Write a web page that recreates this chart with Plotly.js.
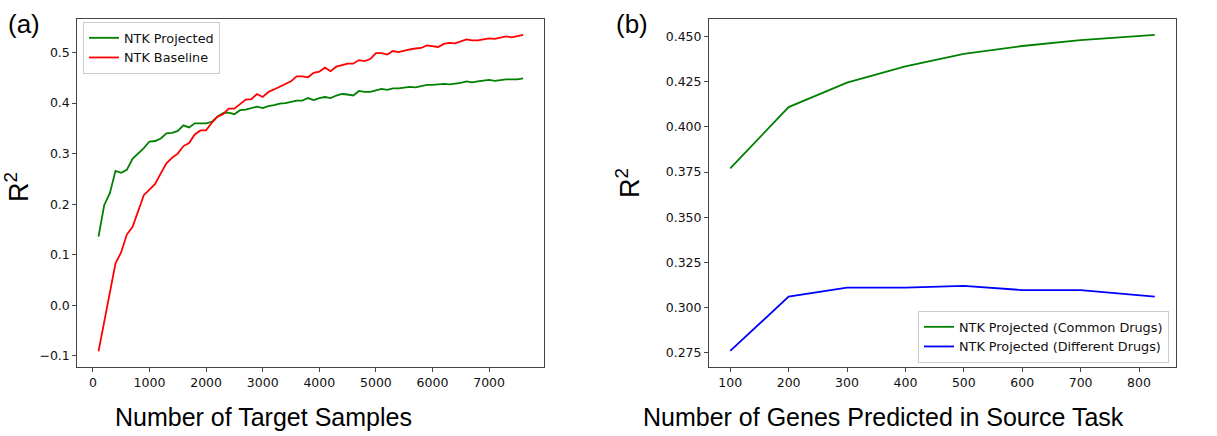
<!DOCTYPE html>
<html>
<head>
<meta charset="utf-8">
<script src="https://cdn.plot.ly/plotly-3.0.1.min.js"></script>
<style>html,body{margin:0;padding:0;background:#fff;}#chart{width:1217px;height:436px;}</style>
</head>
<body>
<div id="chart"></div>
<script>
// ---- Data: panel (a)
var targetSamples = [100,200,300,400,500,600,700,800,900,1000,1100,1200,1300,1400,1500,1600,1700,1800,1900,2000,
  2100,2200,2300,2400,2500,2600,2700,2800,2900,3000,3100,3200,3300,3400,3500,3600,3700,3800,3900,4000,
  4100,4200,4300,4400,4500,4600,4700,4800,4900,5000,5100,5200,5300,5400,5500,5600,5700,5800,5900,6000,
  6100,6200,6300,6400,6500,6600,6700,6800,6900,7000,7100,7200,7300,7400,7500,7600];
var ntkProjected = [0.136,0.198,0.222,0.266,0.262,0.268,0.290,0.300,0.311,0.324,0.325,0.330,0.340,0.341,0.345,0.356,0.352,0.360,0.360,0.360,
  0.363,0.373,0.380,0.381,0.378,0.386,0.387,0.390,0.393,0.390,0.394,0.396,0.399,0.400,0.402,0.405,0.405,0.410,0.406,0.410,
  0.412,0.410,0.415,0.418,0.417,0.415,0.424,0.422,0.422,0.425,0.428,0.426,0.429,0.429,0.431,0.432,0.431,0.433,0.436,0.436,
  0.437,0.438,0.437,0.438,0.440,0.443,0.441,0.443,0.444,0.446,0.444,0.446,0.447,0.447,0.447,0.449];
var ntkBaseline = [-0.091,-0.032,0.024,0.083,0.105,0.140,0.155,0.188,0.218,0.229,0.240,0.261,0.281,0.292,0.300,0.315,0.321,0.338,0.346,0.346,
  0.361,0.373,0.378,0.389,0.389,0.398,0.407,0.408,0.418,0.412,0.422,0.427,0.432,0.438,0.443,0.453,0.453,0.451,0.460,0.462,
  0.470,0.463,0.472,0.475,0.478,0.478,0.485,0.483,0.487,0.499,0.499,0.496,0.503,0.501,0.504,0.506,0.508,0.509,0.514,0.512,
  0.511,0.517,0.519,0.518,0.522,0.526,0.524,0.524,0.526,0.528,0.527,0.529,0.532,0.530,0.532,0.535];

// ---- Data: panel (b)
var genesPredicted = [100,200,300,400,500,600,700,827];
var commonDrugs = [0.377,0.411,0.4245,0.4335,0.4405,0.4448,0.448,0.451];
var differentDrugs = [0.276,0.306,0.311,0.311,0.312,0.3097,0.3097,0.306];

// ---- Tick labels
var xTicksA = [0,1000,2000,3000,4000,5000,6000,7000];
var xTickTextA = ['0','1000','2000','3000','4000','5000','6000','7000'];
var yTicksA = [-0.1,0,0.1,0.2,0.3,0.4,0.5];
var yTickTextA = ['\u22120.1','0.0','0.1','0.2','0.3','0.4','0.5'];
var xTicksB = [100,200,300,400,500,600,700,800];
var xTickTextB = ['100','200','300','400','500','600','700','800'];
var yTicksB = [0.275,0.300,0.325,0.350,0.375,0.400,0.425,0.450];
var yTickTextB = ['0.275','0.300','0.325','0.350','0.375','0.400','0.425','0.450'];

var W = 1217, H = 436;
function px(x){return x/W;}
function py(y){return 1 - y/H;}

var tickFont = {family:'DejaVu Sans', size:12.5, color:'#111'};
var axisCommon = {showline:true, mirror:true, linecolor:'#444', linewidth:1, ticks:'outside', ticklen:4,
  tickcolor:'#444', tickwidth:1, showgrid:false, zeroline:false, tickfont:tickFont, fixedrange:true};

var traces = [
  {x:targetSamples, y:ntkProjected, type:'scatter', mode:'lines', name:'NTK Projected',
   line:{color:'#008000', width:1.8}, xaxis:'x', yaxis:'y', legend:'legend'},
  {x:targetSamples, y:ntkBaseline, type:'scatter', mode:'lines', name:'NTK Baseline',
   line:{color:'#ff0000', width:1.8}, xaxis:'x', yaxis:'y', legend:'legend'},
  {x:genesPredicted, y:commonDrugs, type:'scatter', mode:'lines', name:'NTK Projected (Common Drugs)',
   line:{color:'#008000', width:1.8}, xaxis:'x2', yaxis:'y2', legend:'legend2'},
  {x:genesPredicted, y:differentDrugs, type:'scatter', mode:'lines', name:'NTK Projected (Different Drugs)',
   line:{color:'#0000ff', width:1.8}, xaxis:'x2', yaxis:'y2', legend:'legend2'}
];

var legendCommon = {bgcolor:'rgba(255,255,255,0.8)', bordercolor:'#cccccc', borderwidth:1,
  font:{family:'DejaVu Sans', size:12.8, color:'#111'}, tracegroupgap:0};

var labelFont = {family:'Liberation Sans, Arial, sans-serif', size:25, color:'#000'};

var layout = {
  width:W, height:H,
  margin:{l:0, r:0, t:0, b:0},
  paper_bgcolor:'#fff', plot_bgcolor:'#fff',
  showlegend:true,
  xaxis: Object.assign({}, axisCommon, {domain:[px(77.3), px(544.3)], range:[-275, 7975],
    tickvals:xTicksA, ticktext:xTickTextA, anchor:'y'}),
  yaxis: Object.assign({}, axisCommon, {domain:[py(366.7), py(19)], range:[-0.1213, 0.5663],
    tickvals:yTicksA, ticktext:yTickTextA, anchor:'x'}),
  xaxis2: Object.assign({}, axisCommon, {domain:[px(709), px(1176)], range:[63.65, 863.35],
    tickvals:xTicksB, ticktext:xTickTextB, anchor:'y2'}),
  yaxis2: Object.assign({}, axisCommon, {domain:[py(366.7), py(19)], range:[0.26725, 0.45975],
    tickvals:yTicksB, ticktext:yTickTextB, anchor:'x2'}),
  legend: Object.assign({}, legendCommon, {x:px(83), y:py(22), xanchor:'left', yanchor:'top'}),
  legend2: Object.assign({}, legendCommon, {x:px(1169), y:py(363), xanchor:'right', yanchor:'bottom'}),
  annotations: [
    {text:'Number of Target Samples', xref:'paper', yref:'paper', x:px(263.7), y:py(417), xanchor:'center', yanchor:'middle', showarrow:false, font:labelFont},
    {text:'Number of Genes Predicted in Source Task', xref:'paper', yref:'paper', x:px(883.3), y:py(417), xanchor:'center', yanchor:'middle', showarrow:false, font:labelFont},
    {text:'R<sup>2</sup>', xref:'paper', yref:'paper', x:px(17), y:py(187), xanchor:'center', yanchor:'middle', textangle:-90, showarrow:false, font:{family:'Liberation Sans, Arial, sans-serif', size:27, color:'#000'}},
    {text:'R<sup>2</sup>', xref:'paper', yref:'paper', x:px(628), y:py(183), xanchor:'center', yanchor:'middle', textangle:-90, showarrow:false, font:{family:'Liberation Sans, Arial, sans-serif', size:27, color:'#000'}},
    {text:'(a)', xref:'paper', yref:'paper', x:px(6), y:py(24), xanchor:'left', yanchor:'middle', showarrow:false, font:{family:'Liberation Sans, Arial, sans-serif', size:26, color:'#000'}},
    {text:'(b)', xref:'paper', yref:'paper', x:px(614), y:py(24), xanchor:'left', yanchor:'middle', showarrow:false, font:{family:'Liberation Sans, Arial, sans-serif', size:26, color:'#000'}}
  ]
};

Plotly.newPlot('chart', traces, layout, {displayModeBar:false, staticPlot:true});
</script>
</body>
</html>
